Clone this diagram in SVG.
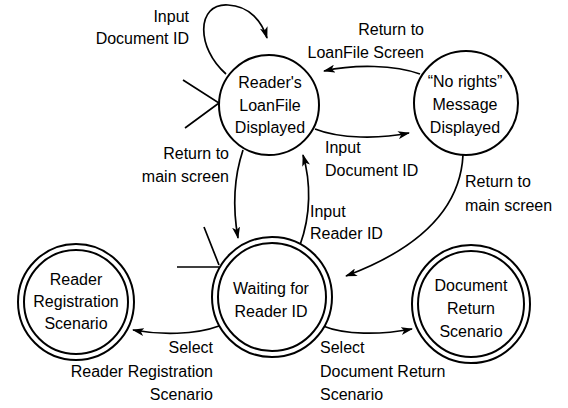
<svg xmlns="http://www.w3.org/2000/svg" width="568" height="408" viewBox="0 0 568 408">
  <defs>
    <marker id="arrow" viewBox="0 0 12 8" refX="11" refY="4" markerWidth="12" markerHeight="8" markerUnits="userSpaceOnUse" orient="auto">
      <path d="M0,0 L12,4 L0,8 L3,4 z" fill="#000"/>
    </marker>
  </defs>
  <style>
    .state { fill: #fff; stroke: #000; stroke-width: 2; }
    .edge { fill: none; stroke: #000; stroke-width: 1.7; }
    .start { fill: none; stroke: #000; stroke-width: 1.7; }
    text { font-family: "Liberation Sans", Arial, sans-serif; font-size: 16px; fill: #000; }
    .c { text-anchor: middle; }
    .r { text-anchor: end; }
    .l { text-anchor: start; }
  </style>
  <rect width="568" height="408" fill="#fff"/>

  <!-- transitions -->
  <g id="connectors">
    <!-- self loop on the loan file state -->
    <path class="edge" d="M226,74 C196,48 196,3 228,5 C250,6 262,22 267,38" marker-end="url(#arrow)"/>
    <!-- initial pseudo-state markers -->
    <path class="start" d="M183,80 L219,103 L185,128"/>
    <path class="start" d="M204,227 L219,265 M177,267 L219,267"/>
    <!-- loan file -> no rights -->
    <path class="edge" d="M315,129 C340,139 380,139 409,133" marker-end="url(#arrow)"/>
    <!-- no rights -> loan file -->
    <path class="edge" d="M420,74 C395,65 355,64 324,71" marker-end="url(#arrow)"/>
    <!-- loan file -> waiting -->
    <path class="edge" d="M243,150 C233,180 233,210 238,238" marker-end="url(#arrow)"/>
    <!-- waiting -> loan file -->
    <path class="edge" d="M300,245 C311,215 311,182 303,155" marker-end="url(#arrow)"/>
    <!-- no rights -> waiting -->
    <path class="edge" d="M463,155 C460,215 410,252 346,276" marker-end="url(#arrow)"/>
    <!-- waiting -> registration -->
    <path class="edge" d="M219,326 C195,335 160,335 133,330" marker-end="url(#arrow)"/>
    <!-- waiting -> document return -->
    <path class="edge" d="M323,326 C345,335 380,335 412,329" marker-end="url(#arrow)"/>
  </g>

  <g id="loanfile">
    <circle class="state" cx="269" cy="105" r="50"/>
    <text class="c" x="270" y="88">Reader's</text>
    <text class="c" x="270" y="111">LoanFile</text>
    <text class="c" x="270" y="133">Displayed</text>
  </g>

  <g id="norights">
    <circle class="state" cx="466" cy="103" r="52"/>
    <text class="c" x="465" y="87">“No rights”</text>
    <text class="c" x="465" y="110">Message</text>
    <text class="c" x="465" y="133">Displayed</text>
  </g>

  <g id="waiting">
    <circle class="state" cx="272" cy="297" r="60"/>
    <circle class="state" cx="272" cy="297" r="54"/>
    <text class="c" x="271" y="294">Waiting for</text>
    <text class="c" x="271" y="317">Reader ID</text>
  </g>

  <g id="registration">
    <circle class="state" cx="76" cy="302" r="58"/>
    <circle class="state" cx="76" cy="302" r="52"/>
    <text class="c" x="76" y="285">Reader</text>
    <text class="c" x="76" y="307">Registration</text>
    <text class="c" x="76" y="329">Scenario</text>
  </g>

  <g id="docreturn">
    <circle class="state" cx="471" cy="304" r="59"/>
    <circle class="state" cx="471" cy="304" r="53"/>
    <text class="c" x="471" y="291">Document</text>
    <text class="c" x="471" y="314">Return</text>
    <text class="c" x="471" y="337">Scenario</text>
  </g>

  <!-- transition labels -->
  <g id="labels">
    <text class="r" x="189" y="22">Input</text>
    <text class="r" x="189" y="44">Document ID</text>

    <text class="r" x="424" y="35">Return to</text>
    <text class="r" x="424" y="58">LoanFile Screen</text>

    <text class="l" x="325" y="153">Input</text>
    <text class="l" x="325" y="176">Document ID</text>

    <text class="r" x="229" y="159">Return to</text>
    <text class="r" x="229" y="182">main screen</text>

    <text class="l" x="465" y="187">Return to</text>
    <text class="l" x="465" y="211">main screen</text>

    <text class="l" x="310" y="217">Input</text>
    <text class="l" x="310" y="239">Reader ID</text>

    <text class="r" x="213" y="353">Select</text>
    <text class="r" x="213" y="377">Reader Registration</text>
    <text class="r" x="213" y="400">Scenario</text>

    <text class="l" x="320" y="353">Select</text>
    <text class="l" x="320" y="377">Document Return</text>
    <text class="l" x="320" y="400">Scenario</text>
  </g>
</svg>
